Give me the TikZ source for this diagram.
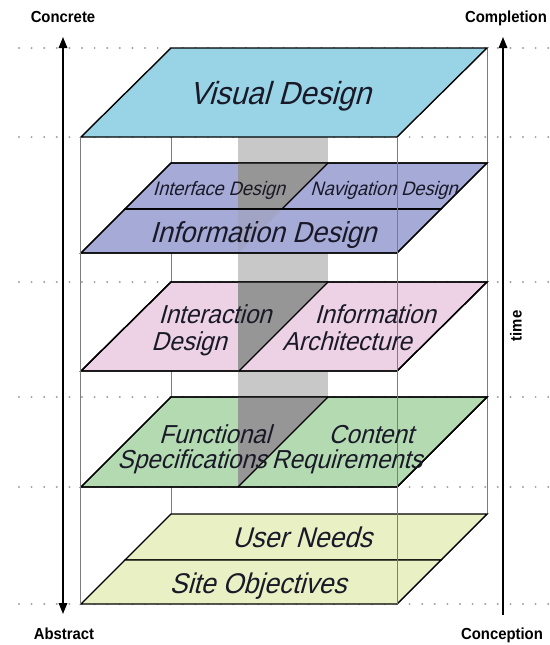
\documentclass[tikz,border=0pt]{standalone}
\usepackage{fontspec}
\setmainfont{Liberation Sans}
\newfontfamily\lblfont[FakeSlant=0.28,FakeStretch=0.93]{Liberation Sans}
\newfontfamily\axfont[FakeStretch=0.93]{Liberation Sans}
\usetikzlibrary{arrows.meta}
\definecolor{cVisual}{RGB}{152,212,230}
\definecolor{cBlue}{RGB}{165,170,214}
\definecolor{cPink}{RGB}{236,210,228}
\definecolor{cGreen}{RGB}{180,218,178}
\definecolor{cYellow}{RGB}{232,240,196}
\definecolor{cLightGray}{RGB}{200,200,200}
\definecolor{cDarkGray}{RGB}{150,150,150}
\definecolor{cBox}{RGB}{125,125,125}
\definecolor{cDots}{RGB}{160,160,160}
\definecolor{cText}{RGB}{25,25,40}
\begin{document}
\begin{tikzpicture}[x=1pt,y=-1pt,
  plane/.style={draw=black,line width=1.4pt,line join=miter},
  divider/.style={draw=black,line width=1.4pt},
  guide/.style={draw=cDots,line width=2.2pt,dash pattern=on 0pt off 12.6pt,line cap=round},
  boxline/.style={draw=cBox,line width=0.9pt},
  darkpart/.style={fill=cDarkGray},
  lbl/.style={text=cText,inner sep=0pt,anchor=base,font=\lblfont},
  axlbl/.style={text=black,inner sep=0pt,anchor=base,font=\axfont\bfseries\fontsize{16}{18}\selectfont},
  axis/.style={draw=black,line width=1.6pt},
  tip/.tip={Triangle[length=11pt,width=8.5pt]}
]
\useasboundingbox (0,0) rectangle (549,645);

% dotted guide lines
\foreach \yy in {48,137,282,397,487,604}{
  \draw[guide] (19,\yy) -- (549,\yy);
}

% back vertical edges of the box
\draw[boxline] (171,48) -- (171,514);
\draw[boxline] (487,48) -- (487,514);

% light gray column
\fill[cLightGray] (238,137) rectangle (328,487);

% Visual Design plane
\draw[plane,fill=cVisual] (81,137) -- (171,48) -- (487,48) -- (397,137) -- cycle;

% Interface / Navigation plane
\draw[plane,fill=cBlue] (125,209) -- (171,163) -- (487,163) -- (441,209) -- cycle;
\fill[darkpart] (238,163) -- (328,163) -- (282,209) -- (238,209) -- cycle;
% Information Design plane
\draw[plane,fill=cBlue] (81,253) -- (125,209) -- (441,209) -- (397,253) -- cycle;
\fill[cDarkGray,opacity=0.25] (238,209) -- (282,209) -- (238,253) -- cycle;
\draw[plane] (125,209) -- (171,163) -- (487,163) -- (441,209) -- cycle;
\draw[plane] (81,253) -- (125,209) -- (441,209) -- (397,253) -- cycle;
\draw[divider] (328,163) -- (282,209);

% Interaction / Information Architecture plane
\draw[plane,fill=cPink] (81,371) -- (171,282) -- (487,282) -- (397,371) -- cycle;
\fill[darkpart] (238,282) -- (328,282) -- (239,371) -- (238,371) -- cycle;
\draw[plane] (81,371) -- (171,282) -- (487,282) -- (397,371) -- cycle;
\draw[divider] (328,282) -- (239,371);

% Functional / Content plane
\draw[plane,fill=cGreen] (81,487) -- (171,397) -- (487,397) -- (397,487) -- cycle;
\fill[darkpart] (238,397) -- (328,397) -- (238,487) -- cycle;
\draw[plane] (81,487) -- (171,397) -- (487,397) -- (397,487) -- cycle;
\draw[divider] (328,397) -- (238,487);

% User Needs / Site Objectives plane
\draw[plane,fill=cYellow] (125,560) -- (171,514) -- (487,514) -- (441,560) -- cycle;
\draw[plane,fill=cYellow] (81,604) -- (125,560) -- (441,560) -- (397,604) -- cycle;

% front vertical edges of the box
\draw[boxline] (80,137) -- (80,604);
\draw[boxline] (397,137) -- (397,604);

% plane labels
\node[lbl,font=\lblfont\fontsize{32}{36}\selectfont] (visual) at (280,104) {Visual Design};
\node[lbl,font=\lblfont\fontsize{19.5}{22}\selectfont] (iface) at (219,195) {Interface Design};
\node[lbl,font=\lblfont\fontsize{19.5}{22}\selectfont] (nav) at (384,195) {Navigation Design};
\node[lbl,font=\lblfont\fontsize{29}{32}\selectfont] (infod) at (263,242) {Information Design};
\node[lbl,font=\lblfont\fontsize{26}{30}\selectfont] (inter1) at (215,323) {Interaction};
\node[lbl,font=\lblfont\fontsize{26}{30}\selectfont] (inter2) at (189,350) {Design};
\node[lbl,font=\lblfont\fontsize{26}{30}\selectfont] (ia1) at (375,323) {Information};
\node[lbl,font=\lblfont\fontsize{26}{30}\selectfont] (ia2) at (347,350) {Architecture};
\node[lbl,font=\lblfont\fontsize{26}{30}\selectfont] (func1) at (215,443) {Functional};
\node[lbl,font=\lblfont\fontsize{26}{30}\selectfont] (func2) at (192,468) {Specifications};
\node[lbl,font=\lblfont\fontsize{26}{30}\selectfont] (cont1) at (371,443) {Content};
\node[lbl,font=\lblfont\fontsize{26}{30}\selectfont] (cont2) at (347,468) {Requirements};
\node[lbl,font=\lblfont\fontsize{28.5}{32}\selectfont] (user) at (302,547) {User Needs};
\node[lbl,font=\lblfont\fontsize{28.5}{32}\selectfont] (site) at (258,593) {Site Objectives};

% axis labels
\node[axlbl] (concrete) at (63,22) {Concrete};
\node[axlbl] (completion) at (506,22) {Completion};
\node[axlbl] (abstract) at (64,639) {Abstract};
\node[axlbl] (conception) at (502,639) {Conception};
\node[axlbl,anchor=center,rotate=90] (time) at (516,326) {time};

% axis arrows
\coordinate (lTop) at (63,37);
\coordinate (lBot) at (63,614);
\coordinate (rTop) at (503,37);
\coordinate (rBot) at (503,615);
\draw[axis,{tip}-{tip}] (lBot) -- (lTop);
\draw[axis,-{tip}] (rBot) -- (rTop);
\end{tikzpicture}
\end{document}
